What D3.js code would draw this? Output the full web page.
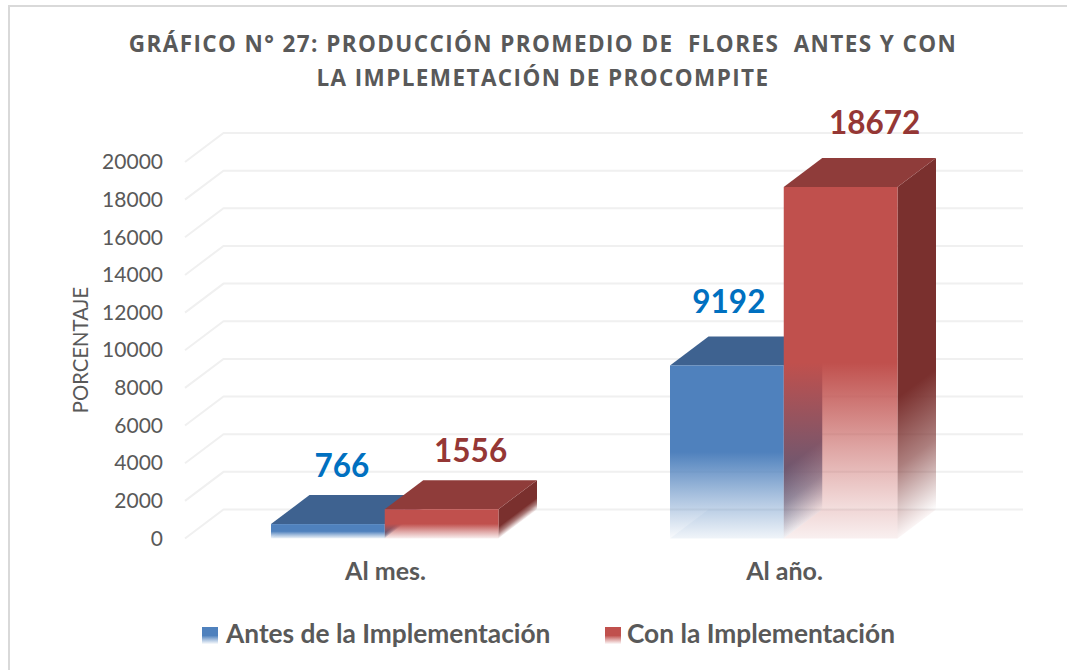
<!DOCTYPE html>
<html><head><meta charset="utf-8">
<script src="https://cdn.jsdelivr.net/npm/d3@7/dist/d3.min.js"></script>
<style>html,body{margin:0;padding:0;background:#fff}svg{display:block}text{font-family:Lato,"Open Sans",sans-serif}</style>
</head><body><svg id="c" width="1067" height="670"></svg>
<script>
const categories=["Al mes.","Al año."];
const seriesNames=["Antes de la Implementación","Con la Implementación"];
const antes=[766,9192];
const con=[1556,18672];
const yTicks=[0,2000,4000,6000,8000,10000,12000,14000,16000,18000,20000];
const titleLines=["GRÁFICO N° 27: PRODUCCIÓN PROMEDIO DE  FLORES  ANTES Y CON","LA IMPLEMETACIÓN DE PROCOMPITE"];
const yTitle="PORCENTAJE";
const palette=[
 {front:"#4F81BD",top:"#3E6290",side:"#3A5C86",label:"#0070C0"},
 {front:"#C0504D",top:"#8F3C3A",side:"#7A302E",label:"#953735"}];

const svg=d3.select("#c");
const defs=svg.append("defs");
const dx=38.5,dy=-29;
const y=d3.scaleLinear().domain([0,20000]).range([538.5,162]);
const x0=d3.scaleBand().domain(categories).range([185,983]);
const x1=d3.scaleBand().domain([0,1]).range([86,313.5]);

svg.append("path").attr("d","M9,670V6H1067").attr("fill","none").attr("stroke","#D9D9D9").attr("stroke-width",2);

// grid
const grid=svg.append("g").attr("fill","none").attr("stroke","#F0F0F0").attr("stroke-width",2);
yTicks.forEach(t=>{
 grid.append("path").attr("d",`M185,${y(t)}L${185+dx},${y(t)+dy}H1023`);
});

// y axis labels via d3 axis
const ax=svg.append("g").attr("transform","translate(163,0)")
 .call(d3.axisLeft(y).tickValues(yTicks).tickFormat(d3.format("d")).tickSize(0).tickPadding(0));
ax.select(".domain").remove();
ax.selectAll("text").attr("fill","#595959").style("font-size","21px").style("font-family","Lato");

svg.append("text").attr("transform","translate(87.5,350) rotate(-90)").attr("text-anchor","middle")
 .attr("fill","#595959").style("font-size","20.3px").text(yTitle);

// title
[0,1].forEach(i=>{
 svg.append("text").attr("x",543).attr("y",i===0?52:85.5).attr("text-anchor","middle").attr("fill","#595959")
  .style("font-family","'Open Sans'").style("font-size","22.5px").style("font-weight",700)
  .style("letter-spacing","1.4px").style("white-space","pre").text(titleLines[i]);
});

// gradients
let gid=0;
function fadeV(color,y1,y2){
 const id="g"+(gid++);
 const g=defs.append("linearGradient").attr("id",id).attr("gradientUnits","userSpaceOnUse")
  .attr("x1",0).attr("x2",0).attr("y1",y1).attr("y2",y2);
 g.append("stop").attr("offset",0.5).attr("stop-color",color).attr("stop-opacity",1);
 g.append("stop").attr("offset",0.75).attr("stop-color",color).attr("stop-opacity",0.5);
 g.append("stop").attr("offset",1).attr("stop-color",color).attr("stop-opacity",0.03);
 return `url(#${id})`;
}
function fadeSide(color,px,y1,y2){
 const id="g"+(gid++);
 const L=y2-y1,t=L/(1+(dy/dx)*(dy/dx));
 const nx=-dy/dx; // (nx,1) is perpendicular to the depth direction, so the fade follows the skew
 const g=defs.append("linearGradient").attr("id",id).attr("gradientUnits","userSpaceOnUse")
  .attr("x1",px).attr("y1",y1).attr("x2",px+nx*t).attr("y2",y1+t);
 g.append("stop").attr("offset",0.6).attr("stop-color",color).attr("stop-opacity",1);
 g.append("stop").attr("offset",0.8).attr("stop-color",color).attr("stop-opacity",0.62);
 g.append("stop").attr("offset",1).attr("stop-color",color).attr("stop-opacity",0);
 return `url(#${id})`;
}

const series=[antes,con];
const barsG=svg.append("g");
categories.forEach((c,i)=>{
 [0,1].forEach(s=>{
  const v=series[s][i],p=palette[s];
  const xl=x0(c)+x1(s),xr=xl+x1.bandwidth(),yt=y(v),yb=y(0);
  const g=barsG.append("g");
  g.append("path").attr("d",`M${xl},${yb}L${xl+dx},${yb+dy}H${xr+dx}L${xr},${yb}Z`)
   .attr("fill",p.front).attr("fill-opacity",0.06);
  g.append("path").attr("d",`M${xr},${yt}L${xr+dx},${yt+dy}V${yb+dy}L${xr},${yb}Z`)
   .attr("fill",fadeSide(p.side,xr,yt,yb));
  g.append("path").attr("d",`M${xl},${yt}L${xl+dx},${yt+dy}H${xr+dx}L${xr},${yt}Z`).attr("fill",p.top);
  g.append("rect").attr("x",xl).attr("y",yt).attr("width",xr-xl).attr("height",yb-yt)
   .attr("fill",fadeV(p.front,yt,yb));
 });
});

// data labels and category labels
const labelShiftX=[[14,29],[2,34]];
const labelShiftY=[[-18,-18],[-23,-24]];
categories.forEach((c,i)=>{
 [0,1].forEach(s=>{
  const v=series[s][i];
  const cx=x0(c)+x1(s)+x1.bandwidth()/2+labelShiftX[i][s];
  svg.append("text").attr("x",cx).attr("y",y(v)+dy+labelShiftY[i][s])
   .attr("text-anchor","middle").attr("fill",palette[s].label)
   .style("font-size","31.5px").style("font-weight",700).text(v);
 });
 svg.append("text").attr("x",x0(c)+x0.bandwidth()/2+1).attr("y",580).attr("text-anchor","middle")
  .attr("fill","#595959").style("font-size","25px").style("font-weight",700).text(c);
});

// legend
const legX=[202,605],legT=[226,627];
seriesNames.forEach((n,s)=>{
 svg.append("rect").attr("x",legX[s]).attr("y",627).attr("width",16).attr("height",17)
  .attr("fill",fadeV(palette[s].front,627,644));
 svg.append("text").attr("x",legT[s]).attr("y",643).attr("fill","#595959")
  .style("font-size","26.3px").style("font-weight",700).text(n);
});
</script></body></html>
